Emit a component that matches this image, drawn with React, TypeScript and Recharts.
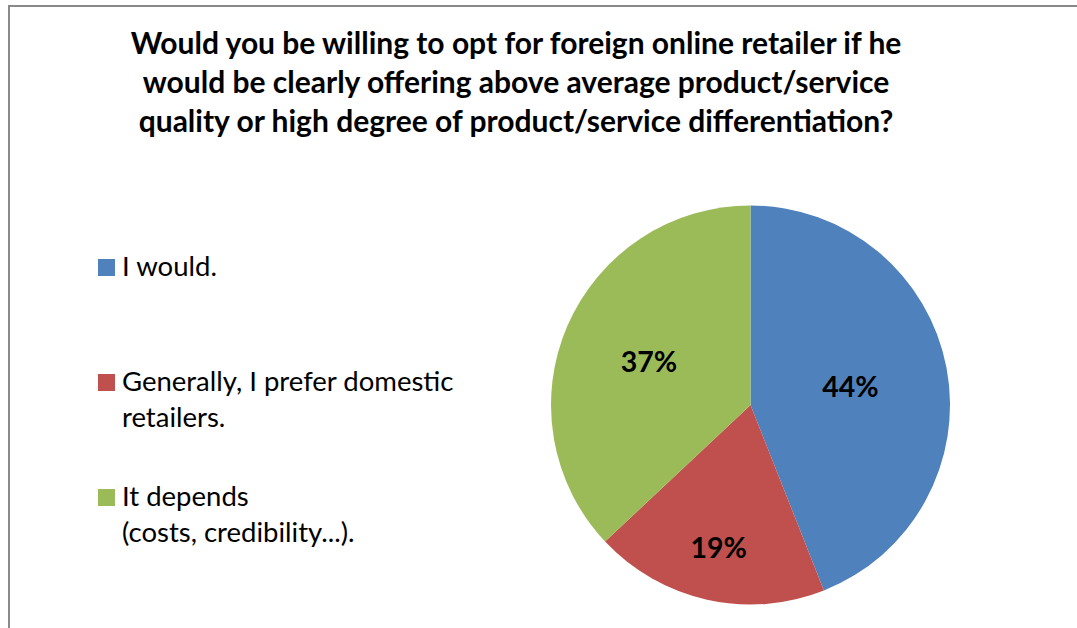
import { PieChart, Pie, Cell, Legend } from 'recharts'

const TITLE_LINES = [
  'Would you be willing to opt for foreign online retailer if he',
  'would be clearly offering above average product/service',
  'quality or high degree of product/service differentiation?',
]

const CATEGORIES = ['I would.', 'Generally, I prefer domestic retailers.', 'It depends (costs, credibility...).']
const LEGEND_LINES = [['I would.'], ['Generally, I prefer domestic', 'retailers.'], ['It depends', '(costs, credibility...).']]
const SHARES = [44, 19, 37]
const COLORS = ['#4F81BD', '#C0504D', '#9BBB59']
// how far out each percentage sits, as a share of the radius (Excel "best fit")
const LABEL_RADIUS = [0.51, 0.73, 0.555]

const data = CATEGORIES.map((name, i) => ({ name, value: SHARES[i] }))

const FONT = 'Lato, "Open Sans", sans-serif'
const RADIAN = Math.PI / 180

const renderLabel = (props: any) => {
  const { cx, cy, midAngle, outerRadius, percent, index } = props
  const r = outerRadius * LABEL_RADIUS[index]
  const x = cx + r * Math.cos(-midAngle * RADIAN)
  const y = cy + r * Math.sin(-midAngle * RADIAN)
  return (
    <text x={x} y={y} textAnchor="middle" dominantBaseline="central" fill="#000" fontSize={28.5} fontWeight={700} fontFamily={FONT}>
      {Math.round(percent * 100)}%
    </text>
  )
}

// legend keeps the data order (recharts would otherwise sort it by name)
const renderLegend = (props: any) => {
  const { payload } = props
  return (
    <div style={{ position: 'relative', fontFamily: FONT, fontSize: 27.5, lineHeight: '36px', color: '#000', height: 345 }}>
      {payload.map((entry: any, i: number) => {
        const found = CATEGORIES.indexOf(entry.value)
        const idx = found >= 0 ? found : i
        return (
          <div key={entry.value} style={{ position: 'absolute', left: 0, top: idx * 115, height: 115, width: '100%' }}>
            <div style={{ position: 'absolute', left: 0, top: 11.5, width: 17, height: 17, background: COLORS[idx] }} />
            <div style={{ position: 'absolute', left: 24, top: 0, whiteSpace: 'nowrap' }}>
              {LEGEND_LINES[idx].map((l, j) => (
                <div key={j}>{l}</div>
              ))}
            </div>
          </div>
        )
      })}
    </div>
  )
}

export default function App() {
  return (
    <div style={{ position: 'absolute', left: 0, top: 0, width: 1077, height: 628, overflow: 'hidden', background: '#fff' }}>
      <div style={{ position: 'absolute', left: 8, top: 5, width: 1120, height: 700, border: '2px solid #898989', boxSizing: 'border-box' }} />
      <div
        style={{
          position: 'absolute',
          left: 0,
          top: 23,
          width: 1032,
          textAlign: 'center',
          fontFamily: FONT,
          fontWeight: 700,
          fontSize: 30,
          lineHeight: '39px',
          color: '#000',
        }}
      >
        {TITLE_LINES.map((t, i) => (
          <div key={i}>{t}</div>
        ))}
      </div>
      <PieChart
        width={1077}
        height={628}
        margin={{ top: 0, right: 0, bottom: 0, left: 0 }}
        style={{ position: 'absolute', left: 0, top: 0 }}
      >
        <Pie
          data={data}
          dataKey="value"
          nameKey="name"
          cx={750.5}
          cy={405}
          outerRadius={199.5}
          startAngle={90}
          endAngle={-270}
          stroke="none"
          label={renderLabel}
          labelLine={false}
          isAnimationActive={false}
        >
          {data.map((d, i) => (
            <Cell key={d.name} fill={COLORS[i]} />
          ))}
        </Pie>
        <Legend
          layout="vertical"
          content={renderLegend}
          wrapperStyle={{ position: 'absolute', left: 98, top: 247.5, width: 420 }}
        />
      </PieChart>
    </div>
  )
}
